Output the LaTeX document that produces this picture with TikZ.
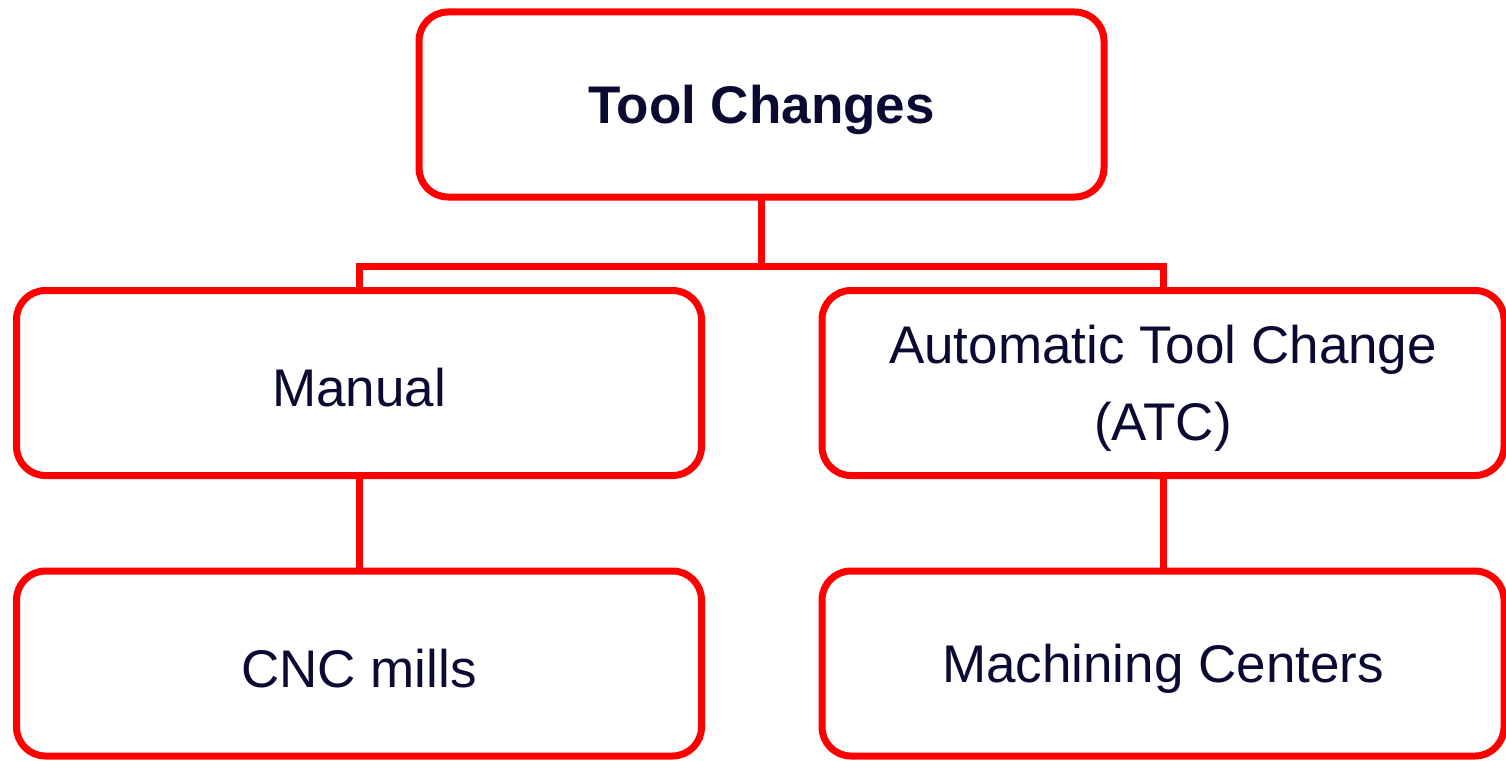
\documentclass[tikz,border=0pt]{standalone}
\usepackage{fontspec}
\setmainfont{Liberation Sans}
\newcommand{\lowr}[1]{\raisebox{-5pt}[\height][\depth]{#1}}
\begin{document}
\begin{tikzpicture}[x=1pt,y=-1pt,
  box/.style={draw=red, line width=7pt, rounded corners=29pt, fill=white,
    minimum width=685pt, minimum height=185pt, inner sep=0pt, outer sep=0pt,
    text=navytext, font=\fontsize{53}{77}\selectfont, align=center},
  link/.style={draw=red, line width=7pt}]
\definecolor{navytext}{RGB}{10,10,50}
\useasboundingbox (0,0) rectangle (1506,760);
\node[box] (top) at (761.5,104.5) {\lowr{\textbf{Tool Changes}}};
\node[box] (manual) at (359,383) {\lowr{Manual}};
\node[box, minimum width=682pt] (atc) at (1163,383) {\lowr{Automatic Tool Change}\\\lowr{(ATC)}};
\node[box] (cnc) at (359,663.5) {\lowr{CNC mills}};
\node[box, minimum width=682pt] (mc) at (1163,663.5) {\lowr{Machining Centers}};
\coordinate (split) at (761.5,266);
\draw[link] (top.south) -- (split);
\draw[link] (split) -| (manual.north);
\draw[link] (split) -| (atc.north);
\draw[link] (manual.south) -- (cnc.north);
\draw[link] (atc.south) -- (mc.north);
\end{tikzpicture}
\end{document}
